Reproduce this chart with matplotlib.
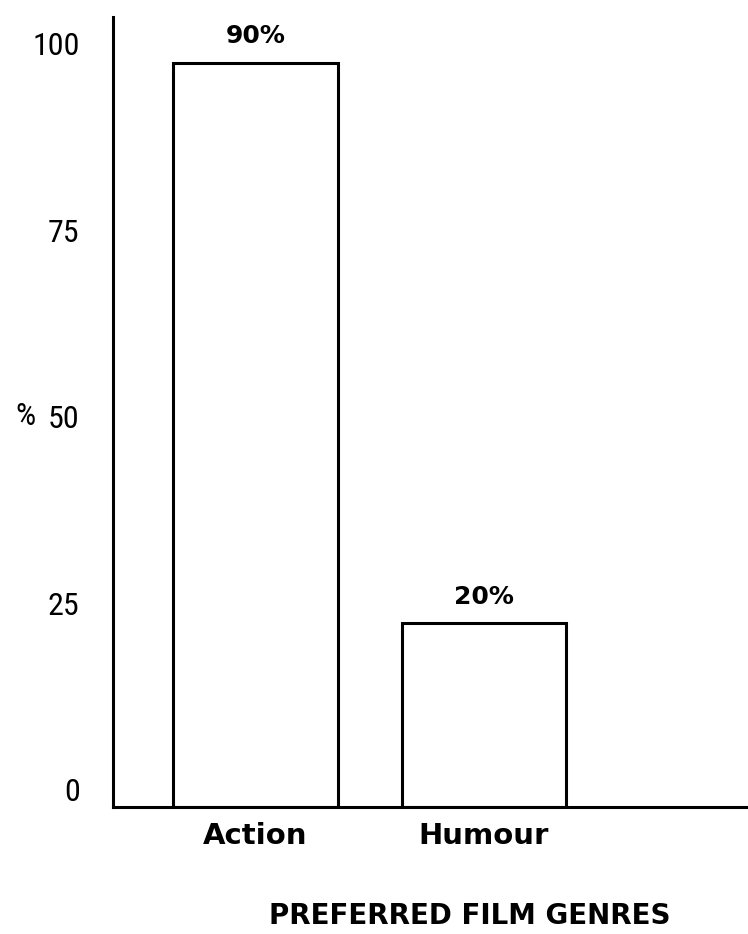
import matplotlib
matplotlib.use("Agg")
import matplotlib.pyplot as plt

categories = ["Action", "Humour"]
bar_heights = [97.5, 22.3]
bar_labels = ["90%", "20%"]
y_ticks = [0, 25, 50, 75, 100]
y_ticklabels = ["0", "25", "50", "75", "100"]
x_title = "PREFERRED FILM GENRES"
y_title = "%"

NUM_FAM = ["Roboto Condensed", "DejaVu Sans"]
BOLD_FAM = ["DejaVu Sans"]
plt.rcParams["font.family"] = NUM_FAM

fig = plt.figure(figsize=(7.48, 9.34), dpi=100)
ax = fig.add_axes([113 / 748, 127 / 934, 635 / 748, 790 / 934])

ymin, ymax = -2.3, 103.6
x = list(range(len(categories)))
bars = ax.bar(x, [h - ymin for h in bar_heights], bottom=ymin, width=0.72,
              color="white", edgecolor="black", linewidth=2.2)
for rect, lab in zip(bars, bar_labels):
    ax.annotate(lab, (rect.get_x() + rect.get_width() / 2, rect.get_y() + rect.get_height()),
                xytext=(0, 14), textcoords="offset points",
                ha="center", va="baseline", fontsize=18, fontweight="bold",
                family=BOLD_FAM)

ax.set_xlim(-0.6236, 2.155)
ax.set_ylim(ymin, ymax)

ax.spines["top"].set_visible(False)
ax.spines["right"].set_visible(False)
for s in ("left", "bottom"):
    ax.spines[s].set_linewidth(2.2)

ax.set_yticks(y_ticks)
ax.set_yticklabels(y_ticklabels, fontsize=23, family=NUM_FAM)
ax.tick_params(axis="y", length=0, pad=24)

ax.set_xticks(x)
ax.set_xticklabels(categories, fontsize=21, fontweight="bold", family=BOLD_FAM)
ax.tick_params(axis="x", length=0, pad=11)

ax.set_ylabel(y_title, rotation=0, fontsize=23, va="center", ha="center", family=NUM_FAM)
ax.yaxis.set_label_coords(-88 / 635, (50 - ymin) / (ymax - ymin))

fig.text(470 / 748, 1 - 916 / 934, x_title, ha="center", va="center",
         fontsize=20, fontweight="bold", family=BOLD_FAM)

fig.savefig("out.png", dpi=100, facecolor="white")
